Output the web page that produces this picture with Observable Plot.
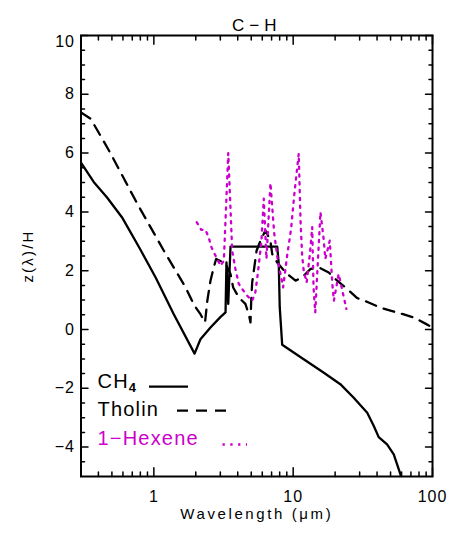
<!DOCTYPE html>
<html>
<head>
<meta charset="utf-8">
<script src="https://cdn.jsdelivr.net/npm/d3@7"></script>
<script src="https://cdn.jsdelivr.net/npm/@observablehq/plot@0.6"></script>
<style>
  body { margin: 0; background: #fff; }
  svg { display: block; }
</style>
</head>
<body>
<div id="chart"></div>
<script>
// Scale height z(λ)/H against wavelength for three absorbers.

// CH4 (solid)
const ch4Wave = [0.3, 0.37, 0.46, 0.59, 0.8, 1.03, 1.39, 1.96, 2.16, 2.55, 3.0, 3.27, 3.32, 3.42, 3.55, 7.68, 7.88, 8.01, 8.34, 11.9, 16.6, 21.8, 27.2, 34.0, 37.9, 41.1, 47.2, 52.7, 58.9, 62];
const ch4Z    = [5.68, 5.02, 4.50, 3.82, 2.72, 1.77, 0.52, -0.82, -0.33, 0.07, 0.42, 0.58, 2.28, 0.87, 2.82, 2.82, 2.23, 0.75, -0.52, -1.01, -1.47, -1.86, -2.32, -2.83, -3.28, -3.66, -3.91, -4.25, -4.93, -5.4];

// Tholin (dashed)
const tholinWave = [0.3, 0.352, 0.476, 0.76, 1.18, 1.69, 1.94, 2.16, 2.33, 2.42, 2.55, 2.69, 2.8, 3.26, 3.55, 3.71, 4.07, 4.54, 4.8, 4.94, 5.0, 5.08, 5.28, 5.46, 5.83, 6.32, 6.86, 7.07, 7.68, 8.81, 10.4, 11.6, 13.3, 15.3, 18.0, 20.7, 24.4, 28.8, 34.8, 41.8, 49.9, 61.5, 73.3, 89, 100];
const tholinZ    = [7.38, 7.17, 6.09, 4.28, 2.68, 1.43, 0.84, 0.52, 0.24, 0.98, 1.66, 2.11, 2.40, 2.25, 1.89, 1.43, 1.09, 0.87, 0.52, 0.24, 1.0, 1.6, 2.17, 2.68, 3.02, 3.37, 3.02, 2.57, 2.28, 1.94, 1.66, 1.77, 2.06, 2.11, 1.94, 1.66, 1.38, 1.07, 0.92, 0.75, 0.64, 0.52, 0.41, 0.20, 0.07];

// 1-Hexene (dotted)
const hexeneWave = [2.03, 2.19, 2.35, 2.48, 2.58, 2.69, 2.85, 3.01, 3.18, 3.42, 3.65, 3.85, 4.07, 4.30, 4.67, 5.08, 5.35, 5.57, 5.91, 6.15, 6.43, 6.87, 7.3, 7.76, 8.11, 8.47, 9.05, 9.66, 10.2, 10.96, 11.3, 11.6, 11.9, 12.5, 13.2, 13.7, 14.0, 14.4, 15.0, 15.7, 16.6, 17.0, 18.3, 19.1, 19.6, 21.2, 24.1];
const hexeneZ    = [3.65, 3.39, 3.39, 3.12, 2.82, 2.63, 2.40, 2.17, 2.34, 6.0, 2.68, 2.06, 1.55, 1.38, 1.15, 0.98, 1.26, 1.89, 2.97, 4.45, 2.40, 4.98, 3.3, 2.34, 1.89, 1.43, 2.51, 3.42, 4.62, 5.98, 3.65, 2.51, 2.0, 1.6, 2.6, 3.48, 1.43, 0.58, 2.2, 3.99, 3.02, 2.40, 3.02, 1.55, 0.98, 1.89, 0.70];

// Axis ticks
const xMajorTicks = [1, 10, 100];
const xMinorTicks = [0.4, 0.5, 0.6, 0.7, 0.8, 0.9, 2, 3, 4, 5, 6, 7, 8, 9, 20, 30, 40, 50, 60, 70, 80, 90];
const yLabelTicks = [-4, -2, 0, 2, 4, 6, 8];
const yTopTick = [10];
const yMajorTicks = [-4, -2, 0, 2, 4, 6, 8, 10];
const yMinorTicks = [-4.5, -3.5, -3, -2.5, -1.5, -1, -0.5, 0.5, 1, 1.5, 2.5, 3, 3.5, 4.5, 5, 5.5, 6.5, 7, 7.5, 8.5, 9, 9.5];

// Text
const titleText = "C\u2212H";
const xLabelText = "Wavelength (\u03bcm)";
const yLabelText = "z(\u03bb)/H";
const legendLabels = [
  {name: "CH", sub: "4"},
  {name: "Tholin", sub: ""},
  {name: "1\u2212Hexene", sub: ""}
];

const FONT = "'Liberation Sans', Arial, Helvetica, sans-serif";
const MAGENTA = "#cc00cc";

const toRows = (w, z) => w.map((d, i) => ({wave: d, z: z[i]}));
const ch4 = toRows(ch4Wave, ch4Z);
const tholin = toRows(tholinWave, tholinZ);
const hexene = toRows(hexeneWave, hexeneZ);

const W = 460, H = 533;
const mL = 80.5, mR = 28, mT = 35, mB = 57;
const xDomain = [0.3, 100], yDomain = [-5, 10];
const xTickLen = 8.8, yTickLen = 7;

const fmtY = d => d < 0 ? "\u2212" + Math.abs(d) : String(d);

// inward ticks drawn as short vectors anchored on the frame
const tickShape = {draw(context, l) { context.moveTo(0, 0); context.lineTo(0, -l); }};
const tickStyle = {anchor: "start", shape: tickShape, stroke: "black", strokeWidth: 1.5};
const xTicksBottom = (vals, len) => Plot.vector(vals, {x: d => d, y: () => yDomain[0], length: len, rotate: 0, ...tickStyle});
const xTicksTop = (vals, len) => Plot.vector(vals, {x: d => d, y: () => yDomain[1], length: len, rotate: 180, ...tickStyle});
const yTicksLeft = (vals, len) => Plot.vector(vals, {x: () => xDomain[0], y: d => d, length: len, rotate: 90, ...tickStyle});
const yTicksRight = (vals, len) => Plot.vector(vals, {x: () => xDomain[1], y: d => d, length: len, rotate: -90, ...tickStyle});

const svg = Plot.plot({
  width: W,
  height: H,
  marginLeft: mL,
  marginRight: mR,
  marginTop: mT,
  marginBottom: mB,
  style: {fontFamily: FONT, background: "#fff", color: "#000"},
  x: {type: "log", domain: xDomain, label: null},
  y: {domain: yDomain, label: null},
  marks: [
    Plot.line(ch4, {x: "wave", y: "z", stroke: "#000", strokeWidth: 2.3, clip: true}),
    Plot.line(tholin, {x: "wave", y: "z", stroke: "#000", strokeWidth: 2.3, strokeDasharray: "11,8", clip: true}),
    Plot.line(hexene, {x: "wave", y: "z", stroke: MAGENTA, strokeWidth: 2.3, strokeDasharray: "2.3,5.5", clip: true}),

    xTicksBottom(xMajorTicks, xTickLen),
    xTicksBottom(xMinorTicks, xTickLen / 2),
    xTicksTop(xMajorTicks, xTickLen),
    xTicksTop(xMinorTicks, xTickLen / 2),
    yTicksLeft(yMajorTicks, yTickLen),
    yTicksLeft(yMinorTicks, yTickLen / 2),
    yTicksRight(yMajorTicks, yTickLen),
    yTicksRight(yMinorTicks, yTickLen / 2),
    Plot.frame({stroke: "#000", strokeWidth: 2}),

    Plot.axisX(xMajorTicks, {tickSize: 0, tickPadding: 14, fontSize: 16, label: null, tickFormat: d => String(d)}),
    Plot.axisY(yLabelTicks, {tickSize: 0, tickPadding: 6, fontSize: 16, label: null, tickFormat: fmtY}),
    Plot.axisY(yTopTick, {tickSize: 0, tickPadding: 6, fontSize: 16, dy: 6, label: null, tickFormat: fmtY}),

    Plot.text([titleText], {text: d => d, frameAnchor: "top", dy: -17, fontSize: 17}),
    Plot.text([xLabelText], {text: d => d, frameAnchor: "bottom", dy: 42, fontSize: 15}),
    Plot.text([yLabelText], {text: d => d, frameAnchor: "left", textAnchor: "middle", dx: -53, rotate: -90, fontSize: 15})
  ]
});

const root = d3.select(svg);
root.selectAll("text").each(function () {
  const t = d3.select(this);
  const s = t.text();
  if (s === titleText) t.attr("letter-spacing", 5);
  else if (s === xLabelText) t.attr("letter-spacing", 2.6);
  else if (s === yLabelText) t.attr("letter-spacing", 2.2);
  else t.attr("letter-spacing", 1);
});

// legend in the lower-left corner of the frame
const legend = root.append("g")
  .attr("font-family", FONT)
  .attr("font-size", 20)
  .attr("text-anchor", "start")
  .attr("letter-spacing", 1.2);
const legendStyles = [
  {color: "#000", dash: null, baseline: 388.3, lineY: 386.7, x1: 149, x2: 188},
  {color: "#000", dash: "11,8", baseline: 416, lineY: 410.7, x1: 177, x2: 226},
  {color: MAGENTA, dash: "2.3,5.5", baseline: 445, lineY: 444.5, x1: 222.5, x2: 247}
];
legendLabels.forEach((entry, i) => {
  const st = legendStyles[i];
  const t = legend.append("text")
    .attr("x", 97.5)
    .attr("y", st.baseline)
    .attr("fill", st.color)
    .text(entry.name);
  if (entry.sub) {
    t.append("tspan")
      .attr("font-size", 13)
      .attr("font-weight", "bold")
      .attr("dy", 4)
      .text(entry.sub);
  }
  legend.append("line")
    .attr("x1", st.x1).attr("x2", st.x2)
    .attr("y1", st.lineY).attr("y2", st.lineY)
    .attr("stroke", st.color)
    .attr("stroke-width", 2.3)
    .attr("stroke-dasharray", st.dash);
});

document.getElementById("chart").appendChild(svg);
</script>
</body>
</html>
